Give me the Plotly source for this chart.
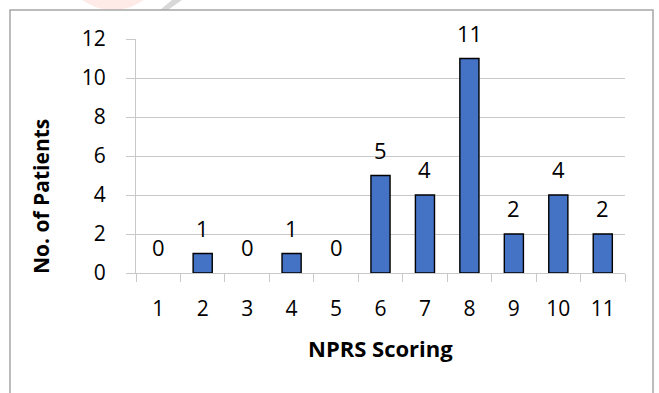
import plotly.graph_objects as go

# NPRS score distribution
scores = ["1", "2", "3", "4", "5", "6", "7", "8", "9", "10", "11"]
patients = [0, 1, 0, 1, 0, 5, 4, 11, 2, 4, 2]
y_ticks = [0, 2, 4, 6, 8, 10, 12]

W, H = 659, 393
L, R, T, B = 136, 34, 39, 120
pw, ph = W - L - R, H - T - B

FONT = "'Open Sans', sans-serif"
GRID = "#c8c8c8"

fig = go.Figure()
fig.add_trace(go.Bar(
    x=scores, y=patients, width=0.43,
    marker=dict(color="#4472C4",
                # empty categories get no outline, so nothing is drawn there
                line=dict(color="#000000",
                          width=[1.4 if v > 0 else 0 for v in patients])),
    hoverinfo="x+y",
))

# value labels above each bar (category positions by index)
for i, v in enumerate(patients):
    fig.add_annotation(x=i, y=v, xref="x", yref="y", text=str(v),
                       showarrow=False, yanchor="middle", yshift=26,
                       font=dict(family=FONT, size=22, color="#000000"))

def px_x(p):
    return (p - L) / pw

def px_y(p):
    return (H - B - p) / ph

# axis titles
fig.add_annotation(x=px_x(380.5), y=px_y(348), xref="paper", yref="paper",
                   text="<b>NPRS Scoring</b>", showarrow=False,
                   xanchor="center", yanchor="middle",
                   font=dict(family=FONT, size=22, color="#000000"))
fig.add_annotation(x=px_x(41), y=px_y(197), xref="paper", yref="paper",
                   text="<b>No. of Patients</b>", showarrow=False, textangle=-90,
                   xanchor="center", yanchor="middle",
                   font=dict(family=FONT, size=21, color="#000000"))

# faint page watermark peeking in above the frame
fig.add_shape(type="circle", xref="paper", yref="paper",
              x0=px_x(62), x1=px_x(164), y0=px_y(10), y1=px_y(-90),
              line=dict(width=0), fillcolor="rgba(252,205,195,0.4)", layer="below")
fig.add_shape(type="path", xref="paper", yref="paper",
              path=(f"M {px_x(160)} {px_y(10)} L {px_x(172)} {px_y(0)} "
                    f"L {px_x(182)} {px_y(0)} L {px_x(168)} {px_y(10)} Z"),
              line=dict(width=0), fillcolor="rgba(200,200,200,0.7)", layer="below")

# chart frame
fig.add_shape(type="rect", xref="paper", yref="paper",
              x0=px_x(10), x1=px_x(653), y0=px_y(420), y1=px_y(10),
              line=dict(color="#a6a6a6", width=1.5), fillcolor="white",
              layer="below")

fig.update_layout(
    width=W, height=H,
    margin=dict(l=L, r=R, t=T, b=B),
    paper_bgcolor="white", plot_bgcolor="rgba(0,0,0,0)",
    showlegend=False,
    font=dict(family=FONT, size=21, color="#000000"),
    xaxis=dict(
        type="category", range=[-0.5, len(scores) - 0.5],
        showgrid=False, showline=True, linecolor=GRID, linewidth=1,
        ticks="outside", tickson="boundaries", ticklen=8, tickcolor=GRID,
        tickfont=dict(family=FONT, size=21, color="#000000"),
        ticklabelstandoff=17, fixedrange=True,
    ),
    yaxis=dict(
        range=[0, 12], tickvals=y_ticks,
        showgrid=True, gridcolor=GRID, gridwidth=1,
        showline=True, linecolor=GRID, linewidth=1,
        ticks="outside", ticklen=9, tickcolor=GRID,
        tickfont=dict(family=FONT, size=21, color="#000000"),
        ticklabelstandoff=16, zeroline=False, fixedrange=True,
    ),
)

fig.write_html("out.html")
